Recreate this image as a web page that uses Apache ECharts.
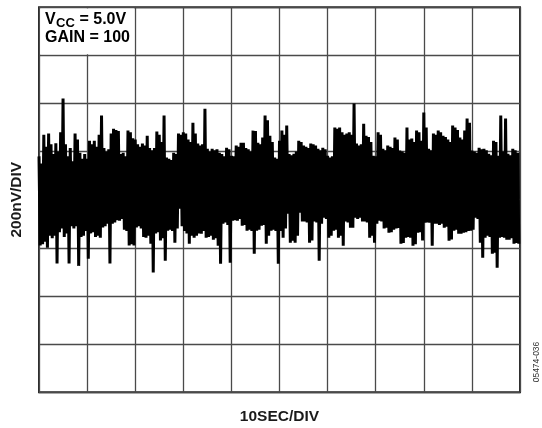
<!DOCTYPE html>
<html>
<head>
<meta charset="utf-8">
<script src="https://cdn.jsdelivr.net/npm/echarts@6/dist/echarts.min.js"></script>
<style>
  html, body { margin: 0; padding: 0; background: #fff; }
  #chart { width: 542px; height: 428px; }
</style>
</head>
<body>
<div id="chart"></div>
<script>
// Output noise record: 100 s span, 0.25 s per sample, values in nV.
const sampleStepSec = 0.25;
const timeSpanSec = [0, 100];
const timeDivSec = 10;
const voltSpanNV = [-800, 800];
const voltDivNV = 200;

const noiseNV = [
  180,-190, 150,-185, 270,-175, 220,-200, 275,-150,
  230,-160, 190,-150, 235,-265, 200,-135, 280,-120,
  420,-155, 230,-140, 180,-265, 215,-110, 160,-120,
  275,-110, 250,-275, 195,-155, 170,-150, 190,-130,
  170,-245, 245,-140, 230,-135, 245,-155, 220,-150,
  270,-158, 350,-115, 215,-110, 200,-100, 210,-265,
  275,-100, 295,-95, 290,-85, 285,-87, 190,-80,
  195,-125, 180,-130, 287,-190, 280,-185, 255,-190,
  250,-115, 230,-110, 220,-120, 233,-155, 225,-158,
  266,-150, 215,-183, 205,-303, 215,-140, 283,-135,
  270,-170, 240,-160, 350,-254, 175,-129, 170,-125,
  165,-130, 195,-179, 190,-120, 275,-37, 270,-110,
  280,-130, 275,-140, 250,-183, 240,-150, 320,-158,
  275,-150, 233,-140, 225,-141, 230,-130, 378,-158,
  212,-155, 200,-150, 212,-166, 205,-160, 210,-191,
  195,-266, 190,-100, 180,-95, 216,-105, 210,-262,
  183,-87, 180,-85, 225,-87, 220,-80, 237,-108,
  237,-105, 215,-129, 210,-125, 200,-130, 287,-225,
  285,-129, 237,-125, 230,-108, 258,-105, 350,-183,
  330,-150, 266,-129, 240,-125, 175,-130, 170,-266,
  245,-130, 287,-158, 270,-120, 308,-58, 190,-179,
  185,-170, 191,-179, 200,-150, 245,-54, 240,-90,
  225,-91, 220,-95, 215,-179, 233,-170, 230,-91,
  225,-95, 212,-254, 205,-100, 216,-75, 210,-80,
  183,-158, 175,-150, 180,-129, 300,-125, 295,-158,
  300,-150, 280,-191, 270,-91, 275,-95, 280,-116,
  270,-116, 400,-75, 233,-80, 225,-75, 230,-91,
  316,-91, 266,-95, 260,-158, 240,-150, 183,-179,
  180,-100, 280,-87, 270,-90, 212,-120, 205,-116,
  225,-137, 220,-135, 215,-125, 258,-120, 250,-118,
  204,-183, 200,-180, 195,-158, 300,-155, 250,-158,
  254,-191, 240,-185, 287,-137, 280,-135, 245,-170,
  362,-96, 300,-95, 212,-96, 205,-191, 275,-100,
  270,-100, 287,-105, 280,-100, 266,-116, 260,-112,
  250,-171, 240,-165, 308,-129, 300,-125, 290,-141,
  258,-141, 250,-137, 287,-135, 337,-130, 320,-129,
  204,-125, 200,-75, 195,-80, 216,-179, 210,-241,
  212,-158, 205,-150, 191,-155, 185,-225, 245,-220,
  240,-283, 183,-158, 350,-155, 200,-158, 337,-166,
  191,-166, 185,-160, 212,-183, 205,-180, 195,-183
];

const conditionLines = ['V', 'CC', ' = 5.0V', 'GAIN = 100'];
const xAxisTitle = '10SEC/DIV';
const yAxisTitle = '200nV/DIV';
const figureId = '05474-036';

const FONT = '"Liberation Sans", Arial, Helvetica, sans-serif';

const chart = echarts.init(document.getElementById('chart'), null, { renderer: 'canvas' });

const seriesData = noiseNV.map((v, i) => [i * sampleStepSec, v]);

const gridLine = { show: true, lineStyle: { color: '#4a4a4a', width: 1.3 } };

chart.setOption({
  animation: false,
  backgroundColor: '#ffffff',
  grid: {
    left: 39, top: 7.2, width: 481, height: 385,
    outerBoundsMode: 'none', containLabel: false,
    show: true, borderColor: '#2a2a2a', borderWidth: 2, backgroundColor: '#ffffff'
  },
  xAxis: {
    type: 'value', min: timeSpanSec[0], max: timeSpanSec[1], interval: timeDivSec,
    axisLine: { show: false }, axisTick: { show: false }, axisLabel: { show: false },
    splitLine: gridLine,
    name: xAxisTitle, nameLocation: 'middle', nameGap: 25,
    nameTextStyle: { fontFamily: FONT, fontWeight: 'bold', fontSize: 15.5, color: '#1a1a1a', verticalAlign: 'middle' }
  },
  yAxis: {
    type: 'value', min: voltSpanNV[0], max: voltSpanNV[1], interval: voltDivNV,
    axisLine: { show: false }, axisTick: { show: false }, axisLabel: { show: false },
    splitLine: gridLine,
    name: yAxisTitle, nameLocation: 'middle', nameGap: 22, nameRotate: 90,
    nameTextStyle: { fontFamily: FONT, fontWeight: 'bold', fontSize: 15.5, color: '#1a1a1a', verticalAlign: 'middle' }
  },
  series: [{
    type: 'line',
    data: seriesData,
    showSymbol: false,
    symbol: 'none',
    sampling: null,
    lineStyle: { color: '#000000', width: 3, join: 'miter', miterLimit: 2 },
    z: 3
  }]
});

// Condition box in the top-left cell pair, plus the figure id on the right edge.
const p0 = chart.convertToPixel({ gridIndex: 0 }, [0, voltSpanNV[1]]);
const p1 = chart.convertToPixel({ gridIndex: 0 }, [2 * timeDivSec, voltSpanNV[1] - voltDivNV]);
const boxX = p0[0] + 1.2, boxY = p0[1] + 1.2;
const boxW = p1[0] - p0[0] - 2.2, boxH = p1[1] - p0[1] - 2.2;

chart.setOption({
  graphic: [
    {
      type: 'rect', z: 50,
      shape: { x: boxX, y: boxY, width: boxW, height: boxH },
      style: { fill: '#ffffff' }
    },
    {
      type: 'text', z: 51, x: p0[0] + 6, y: p0[1] + 12.5,
      style: { text: conditionLines[0], font: 'bold 16px ' + FONT, fill: '#000', verticalAlign: 'middle', align: 'left' }
    },
    {
      type: 'text', z: 51, x: p0[0] + 17, y: p0[1] + 16.5,
      style: { text: conditionLines[1], font: 'bold 13px ' + FONT, fill: '#000', verticalAlign: 'middle', align: 'left' }
    },
    {
      type: 'text', z: 51, x: p0[0] + 36, y: p0[1] + 12.5,
      style: { text: conditionLines[2], font: 'bold 16px ' + FONT, fill: '#000', verticalAlign: 'middle', align: 'left' }
    },
    {
      type: 'text', z: 51, x: p0[0] + 6, y: p0[1] + 30.5,
      style: { text: conditionLines[3], font: 'bold 16px ' + FONT, fill: '#000', verticalAlign: 'middle', align: 'left' }
    },
    {
      type: 'text', z: 51, x: 537, y: 362, rotation: Math.PI / 2,
      style: { text: figureId, font: '8.5px ' + FONT, fill: '#333', verticalAlign: 'middle', align: 'center' }
    }
  ]
});
</script>
</body>
</html>
